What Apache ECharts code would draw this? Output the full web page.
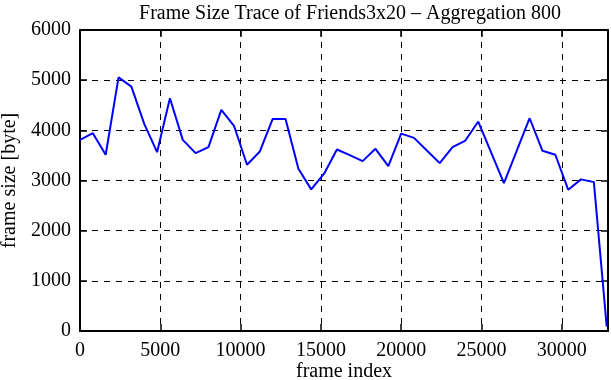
<!DOCTYPE html>
<html>
<head>
<meta charset="utf-8">
<script src="https://cdn.jsdelivr.net/npm/echarts@6/dist/echarts.min.js"></script>
<style>html,body{margin:0;padding:0;background:#fff;}#c{width:611px;height:380px;}</style>
</head>
<body>
<div id="c"></div>
<script>
const titleText = 'Frame Size Trace of Friends3x20 \u2013 Aggregation 800';
const xName = 'frame index';
const yName = 'frame size [byte]';
const frameIndex = [0,800,1600,2400,3200,4000,4800,5600,6400,7200,8000,8800,9600,10400,11200,12000,12800,13600,14400,15200,16000,16800,17600,18400,19200,20000,20800,21600,22400,23200,24000,24800,25600,26400,27200,28000,28800,29600,30400,31200,32000,32800];
const frameSize = [3810,3943,3513,5056,4871,4129,3565,4639,3810,3545,3664,4407,4082,3314,3579,4228,4228,3234,2823,3135,3618,3505,3386,3632,3287,3935,3850,3598,3347,3664,3797,4175,3559,2949,3595,4241,3592,3513,2817,3022,2968,86];
const xMax = 32880;
const yTicksMax = 6000;

const font = 'Liberation Serif';
const chart = echarts.init(document.getElementById('c'), null, {renderer:'canvas'});
const axisCommon = {
  axisLine:{show:true,onZero:false,lineStyle:{color:'#000',width:2}},
  axisTick:{show:true,inside:true,length:7,lineStyle:{color:'#000',width:1.5}},
  minorTick:{show:false}
};
const plain = v => String(v);
chart.setOption({
  animation:false,
  backgroundColor:'#fff',
  title:{text:titleText,left:345,top:-1,textAlign:'center',textStyle:{fontFamily:font,fontWeight:'normal',fontSize:20,color:'#000'}},
  grid:{left:80,right:3,top:30,bottom:49,containLabel:false,outerBoundsMode:'none'},
  xAxis:[
    Object.assign({type:'value',min:0,max:xMax,interval:5000,position:'bottom',
      name:xName,nameLocation:'middle',nameGap:31,nameMoveOverlap:false,nameTextStyle:{fontFamily:font,fontSize:20,color:'#000'},
      axisLabel:{fontFamily:font,fontSize:20,color:'#000',margin:10,showMaxLabel:false,formatter:plain},
      splitLine:{show:true,lineStyle:{color:'#000',type:[6,6],width:1}}},axisCommon),
    Object.assign({type:'value',min:0,max:xMax,interval:5000,position:'top',
      axisLabel:{show:false},splitLine:{show:false}},axisCommon)
  ],
  yAxis:[
    Object.assign({type:'value',min:0,max:yTicksMax,interval:1000,position:'left',
      name:yName,nameLocation:'middle',nameGap:60,nameMoveOverlap:false,nameRotate:90,nameTextStyle:{fontFamily:font,fontSize:20,color:'#000'},
      axisLabel:{fontFamily:font,fontSize:20,color:'#000',margin:9,formatter:plain},
      splitLine:{show:true,lineStyle:{color:'#000',type:[6,6],width:1}}},axisCommon),
    Object.assign({type:'value',min:0,max:yTicksMax,interval:1000,position:'right',
      axisLabel:{show:false},splitLine:{show:false}},axisCommon)
  ],
  series:[{type:'line',data:frameIndex.map((x,i)=>[x,frameSize[i]]),showSymbol:false,
    lineStyle:{color:'#0000ff',width:2},itemStyle:{color:'#0000ff'},z:5}]
});
</script>
</body>
</html>
